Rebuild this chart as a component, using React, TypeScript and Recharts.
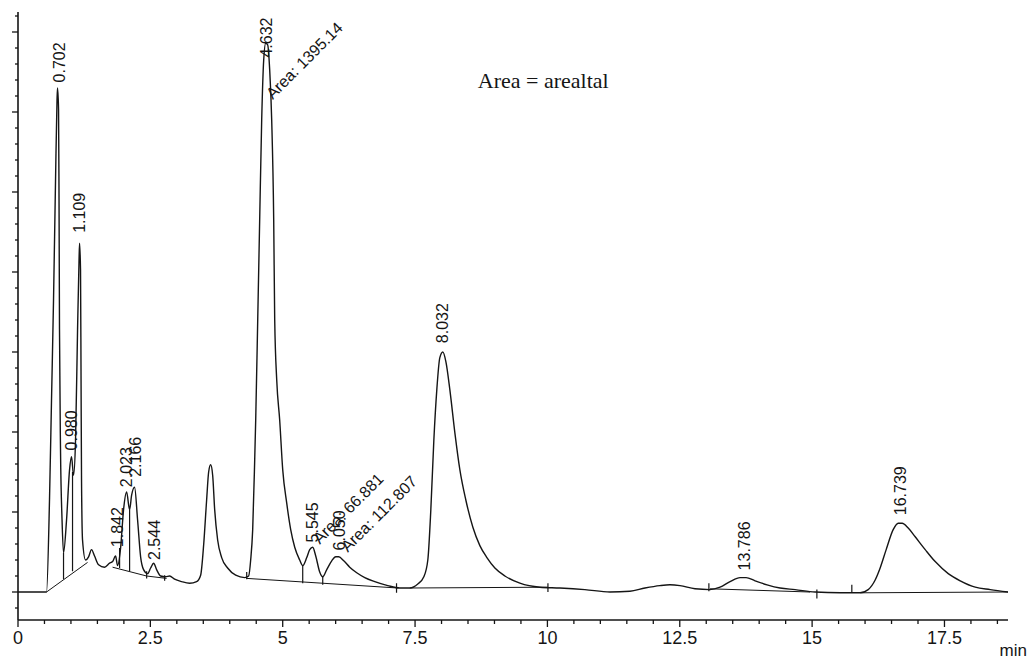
import { ComposedChart, Line, Scatter, XAxis, YAxis } from "recharts";

// detector trace, retention time (min) / signal
const signalT = [
  0, 0.539, 0.595, 0.633, 0.671, 0.709, 0.737, 0.747, 0.766, 0.775,
  0.784, 0.803, 0.832, 0.86, 0.917, 0.974, 1.011, 1.049, 1.087, 1.125,
  1.153, 1.163, 1.181, 1.191, 1.2, 1.219, 1.276, 1.333, 1.389, 1.446,
  1.522, 1.635, 1.73, 1.786, 1.843, 1.881, 1.938, 1.994, 2.051, 2.108,
  2.146, 2.202, 2.259, 2.316, 2.372, 2.448, 2.505, 2.562, 2.618, 2.694,
  2.788, 2.864, 2.958, 3.091, 3.242, 3.374, 3.45, 3.507, 3.563, 3.601,
  3.639, 3.677, 3.715, 3.771, 3.847, 3.96, 4.112, 4.282, 4.357, 4.395,
  4.433, 4.471, 4.49, 4.528, 4.565, 4.603, 4.641, 4.679, 4.716, 4.754,
  4.792, 4.83, 4.849, 4.887, 4.943, 5.0, 5.076, 5.151, 5.227, 5.321,
  5.378, 5.454, 5.51, 5.567, 5.624, 5.699, 5.756, 5.832, 5.926, 6.002,
  6.058, 6.153, 6.266, 6.398, 6.55, 6.739, 6.985, 7.212, 7.401, 7.552,
  7.666, 7.741, 7.798, 7.855, 7.911, 7.968, 8.025, 8.082, 8.157, 8.252,
  8.346, 8.459, 8.592, 8.724, 8.857, 9.008, 9.197, 9.48, 9.858, 10.236,
  10.709, 11.181, 11.559, 11.843, 12.126, 12.315, 12.504, 12.788, 13.072, 13.261,
  13.45, 13.639, 13.752, 13.922, 14.149, 14.395, 14.678, 15.057, 15.529, 15.907,
  16.059, 16.191, 16.285, 16.399, 16.531, 16.626, 16.701, 16.815, 16.947, 17.136,
  17.325, 17.571, 17.798, 18.081, 18.365, 18.705,
];
const signalV = [
  0, 0, 115, 240, 365, 515, 615, 630, 603, 490,
  328, 178, 90, 49, 90, 153, 169, 146, 190, 328,
  415, 436, 403, 265, 140, 65, 40, 44, 53, 45,
  34, 31, 36, 38, 45, 33, 55, 103, 125, 103,
  121, 131, 90, 44, 28, 23, 30, 36, 28, 20,
  19, 20, 16, 13, 11, 13, 21, 59, 115, 150,
  159, 146, 103, 65, 43, 30, 21, 18, 20, 40,
  78, 165, 215, 340, 465, 590, 665, 686, 684, 653,
  590, 465, 340, 265, 215, 153, 111, 78, 56, 40,
  33, 43, 53, 56, 45, 25, 19, 28, 39, 44,
  44, 39, 31, 24, 18, 13, 8, 5, 5, 10,
  19, 40, 103, 190, 253, 293, 300, 288, 253, 199,
  153, 115, 81, 58, 43, 30, 20, 11, 6, 5,
  3, 0, 1, 5, 8, 9, 8, 4, 3, 6,
  13, 18, 18, 14, 9, 5, 3, 0, -1, -1,
  3, 15, 30, 53, 78, 86, 86, 80, 69, 53,
  38, 23, 14, 6, 3, 0,
];

// integration baselines: [t1, v1, t2, v2]
const baseSegments = [
  [0.539, 0, 1.314, 37],
  [1.786, 31, 2.429, 20],
  [2.429, 20, 2.807, 17],
  [4.319, 17, 7.174, 5],
  [7.401, 5, 10.01, 6],
  [13.07, 4, 14.96, 0],
  [15.91, -1, 18.7, 0],
];

// drop lines / event marks: [t, top, bottom]
const dropLines = [
  [0.86, 49, 16],
  [1.03, 150, 26],
  [1.919, 55, 30],
  [2.108, 103, 26],
  [5.378, 33, 11],
  [5.756, 19, 9],
  [2.43, 26, 17],
  [2.77, 21, 14],
  [4.32, 25, 16],
  [7.15, 11, -1],
  [10.01, 11, 0],
  [13.05, 11, 1],
  [15.09, 3, -8],
  [15.75, 9, -1],
];

const peakNames = ["0.702", "0.980", "1.109", "1.842", "2.023", "2.166", "2.544", "4.632", "5.545", "6.050", "8.032", "13.786", "16.739"];
const peakT = [0.784, 1.011, 1.163, 1.881, 2.051, 2.221, 2.58, 4.698, 5.567, 6.078, 8.025, 13.715, 16.664];
const peakV = [637, 177, 449, 56, 131, 144, 40, 668, 62, 52, 311, 27, 96];

const areaTexts = ["Area: 1395.14", "Area: 66.881", "Area: 112.807"];
const areaT = [4.811, 5.7, 6.229];
const areaV = [615, 59, 49];

const noteText = ["Area = arealtal"];
const noteT = [8.686];
const noteV = [630];

const xTicks = [
  0, 0.5, 1, 1.5, 2, 2.5, 3, 3.5, 4, 4.5, 5, 5.5, 6, 6.5, 7, 7.5, 8, 8.5, 9, 9.5,
  10, 10.5, 11, 11.5, 12, 12.5, 13, 13.5, 14, 14.5, 15, 15.5, 16, 16.5, 17, 17.5, 18, 18.5,
];
const xLabels = ["0", "2.5", "5", "7.5", "10", "12.5", "15", "17.5"];
const yTicks = [
  -20, 0, 20, 40, 60, 80, 100, 120, 140, 160, 180, 200, 220, 240, 260, 280, 300, 320, 340, 360,
  380, 400, 420, 440, 460, 480, 500, 520, 540, 560, 580, 600, 620, 640, 660, 680, 700, 720,
];

const INK = "#151515";
const FONT = "'Liberation Sans', Arial, sans-serif";

const signal = signalT.map((t, i) => ({ t, v: signalV[i] }));
const baselines = baseSegments.flatMap(([t1, v1, t2, v2]) => [
  { t: t1, v: v1 },
  { t: t2, v: v2 },
  { t: t2, v: null },
]);
const drops = dropLines.flatMap(([t, a, b]) => [
  { t, v: a },
  { t, v: b },
  { t, v: null },
]);
const peaks = peakNames.map((name, i) => ({ t: peakT[i], v: peakV[i], name }));
const areas = areaTexts.map((name, i) => ({ t: areaT[i], v: areaV[i], name }));
const notes = noteText.map((name, i) => ({ t: noteT[i], v: noteV[i], name }));

const XTick = ({ x, y, payload }: any) => {
  const major = xLabels.includes(String(payload.value));
  return (
    <g>
      <line x1={x} x2={x} y1={y} y2={y + (major ? 7 : 4)} stroke={INK} strokeWidth={1.3} />
      {major && (
        <text x={x} y={y + 24} textAnchor="middle" fontSize={18} fontFamily={FONT} fill={INK}>
          {payload.value}
        </text>
      )}
    </g>
  );
};

const YTick = ({ x, y, payload }: any) => {
  const major = payload.value % 100 === 0;
  return <line x1={x - (major ? 6 : 3)} x2={x} y1={y} y2={y} stroke={INK} strokeWidth={1.3} />;
};

const MinLabel = (props: any) => {
  const vb = props.viewBox;
  return (
    <text x={vb.x + vb.width + 19} y={vb.y + 36} textAnchor="end" fontSize={17} fontFamily={FONT} fill={INK}>
      min
    </text>
  );
};

const PeakLabel = (p: any) => (
  <text
    x={p.cx}
    y={p.cy}
    transform={`rotate(-90 ${p.cx} ${p.cy})`}
    textAnchor="start"
    dominantBaseline="central"
    fontSize={16}
    fontFamily={FONT}
    fill={INK}
  >
    {p.payload.name}
  </text>
);

const AreaLabel = (p: any) => (
  <text x={p.cx} y={p.cy} transform={`rotate(-45 ${p.cx} ${p.cy})`} fontSize={16} fontFamily={FONT} fill={INK}>
    {p.payload.name}
  </text>
);

const NoteLabel = (p: any) => (
  <text x={p.cx} y={p.cy} fontSize={22} fontFamily="'Liberation Serif', 'Times New Roman', serif" fill={INK}>
    {p.payload.name}
  </text>
);

export default function App() {
  return (
    <div style={{ position: "absolute", left: 0, top: 0, width: 1029, height: 660, background: "#fff" }}>
      <ComposedChart width={1029} height={660} margin={{ top: 12, right: 21, bottom: 0, left: 0 }}>
        <XAxis
          type="number"
          dataKey="t"
          domain={[0, 18.7]}
          ticks={xTicks}
          interval={0}
          allowDataOverflow
          height={40}
          tickLine={false}
          tickSize={0}
          tickMargin={0}
          axisLine={{ stroke: INK, strokeWidth: 1.6 }}
          tick={<XTick />}
          label={<MinLabel />}
        />
        <YAxis
          type="number"
          dataKey="v"
          domain={[-35, 725]}
          ticks={yTicks}
          interval={0}
          allowDataOverflow
          width={18}
          tickLine={false}
          tickSize={0}
          tickMargin={0}
          axisLine={{ stroke: INK, strokeWidth: 1.6 }}
          tick={<YTick />}
        />
        <Line data={baselines} dataKey="v" type="linear" stroke={INK} strokeWidth={1} dot={false} activeDot={false} connectNulls={false} isAnimationActive={false} />
        <Line data={drops} dataKey="v" type="linear" stroke={INK} strokeWidth={1.2} dot={false} activeDot={false} connectNulls={false} isAnimationActive={false} />
        <Line data={signal} dataKey="v" type="monotone" stroke={INK} strokeWidth={1.4} dot={false} activeDot={false} isAnimationActive={false} />
        <Scatter data={peaks} dataKey="v" shape={PeakLabel} isAnimationActive={false} />
        <Scatter data={areas} dataKey="v" shape={AreaLabel} isAnimationActive={false} />
        <Scatter data={notes} dataKey="v" shape={NoteLabel} isAnimationActive={false} />
      </ComposedChart>
    </div>
  );
}
